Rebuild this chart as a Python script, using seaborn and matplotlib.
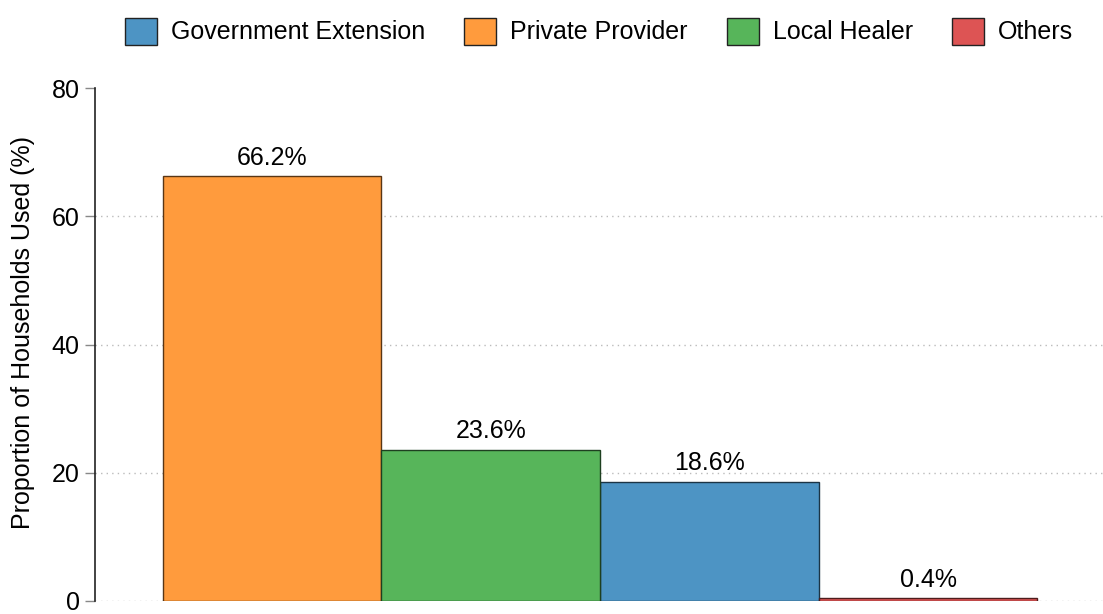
import matplotlib
matplotlib.use("Agg")
import matplotlib.pyplot as plt
import matplotlib.colors as mcolors
from matplotlib.patches import Patch
import seaborn as sns
import pandas as pd

# Service sources, sorted by share of households
sources = ["Private Provider", "Local Healer", "Government Extension", "Others"]
shares = [66.2, 23.6, 18.6, 0.4]
legend_order = ["Government Extension", "Private Provider", "Local Healer", "Others"]
palette = {
    "Government Extension": "#4d94c4",
    "Private Provider": "#ff9b3d",
    "Local Healer": "#57b55a",
    "Others": "#dd5454",
}
y_ticks = [0, 20, 40, 60, 80]

sns.set_theme(style="white")
plt.rcParams["font.family"] = ["Liberation Sans", "DejaVu Sans"]
plt.rcParams["text.color"] = "black"
plt.rcParams["axes.labelcolor"] = "black"
plt.rcParams["ytick.color"] = "black"

df = pd.DataFrame({"source": sources, "share": shares})

fig = plt.figure(figsize=(11.03, 6.14), dpi=100)
ax = fig.add_axes([95 / 1103, 13 / 614, 1 - 95 / 1103, 513 / 614])

sns.barplot(data=df, x="source", y="share", hue="source", order=sources,
            hue_order=legend_order, palette=palette, dodge=False, width=1.0,
            saturation=1, legend=False, ax=ax, zorder=2)


def darker(c, f=0.35):
    r, g, b = mcolors.to_rgb(c)
    return (r * f, g * f, b * f)


for p in ax.patches:
    if p.get_height() <= 0 and p.get_width() <= 0:
        continue
    idx = int(round(p.get_x() + p.get_width() / 2))
    if 0 <= idx < len(sources):
        p.set_edgecolor(darker(palette[sources[idx]]))
        p.set_linewidth(1.0)

for i, v in enumerate(shares):
    ax.text(i, v + 1.0, f"{v}%", ha="center", va="bottom", fontsize=18,
            color="black")

ax.set_xlim(-0.81, 3.80)
ax.set_ylim(0, 80)
ax.set_yticks(y_ticks)
ax.set_xticks([])
ax.set_xlabel("")
ax.set_ylabel("Proportion of Households Used (%)", fontsize=18)
ax.yaxis.set_label_coords(-0.0595, 0.524)
ax.tick_params(axis="y", labelsize=18, length=7, width=1,
               labelcolor="black", color="#888888", left=True, pad=4)

ax.yaxis.grid(True, linestyle=(0, (1, 3)), color="#bbbbbb", linewidth=1)
ax.set_axisbelow(True)
ax.get_ygridlines()[-1].set_visible(False)

for s in ["top", "right", "bottom"]:
    ax.spines[s].set_visible(False)
ax.spines["left"].set_color("#222222")
ax.spines["left"].set_linewidth(1.2)

handles = [Patch(facecolor=palette[k], edgecolor="#222222", linewidth=1.0,
                 label=k) for k in legend_order]
ax.legend(handles=handles, loc="center", bbox_to_anchor=(0.5, 1.111),
          ncol=4, frameon=False, fontsize=18, handlelength=1.28,
          handleheight=1.28, handletextpad=0.56, columnspacing=1.56,
          borderaxespad=0, borderpad=0)

fig.savefig("out.png", dpi=100)
